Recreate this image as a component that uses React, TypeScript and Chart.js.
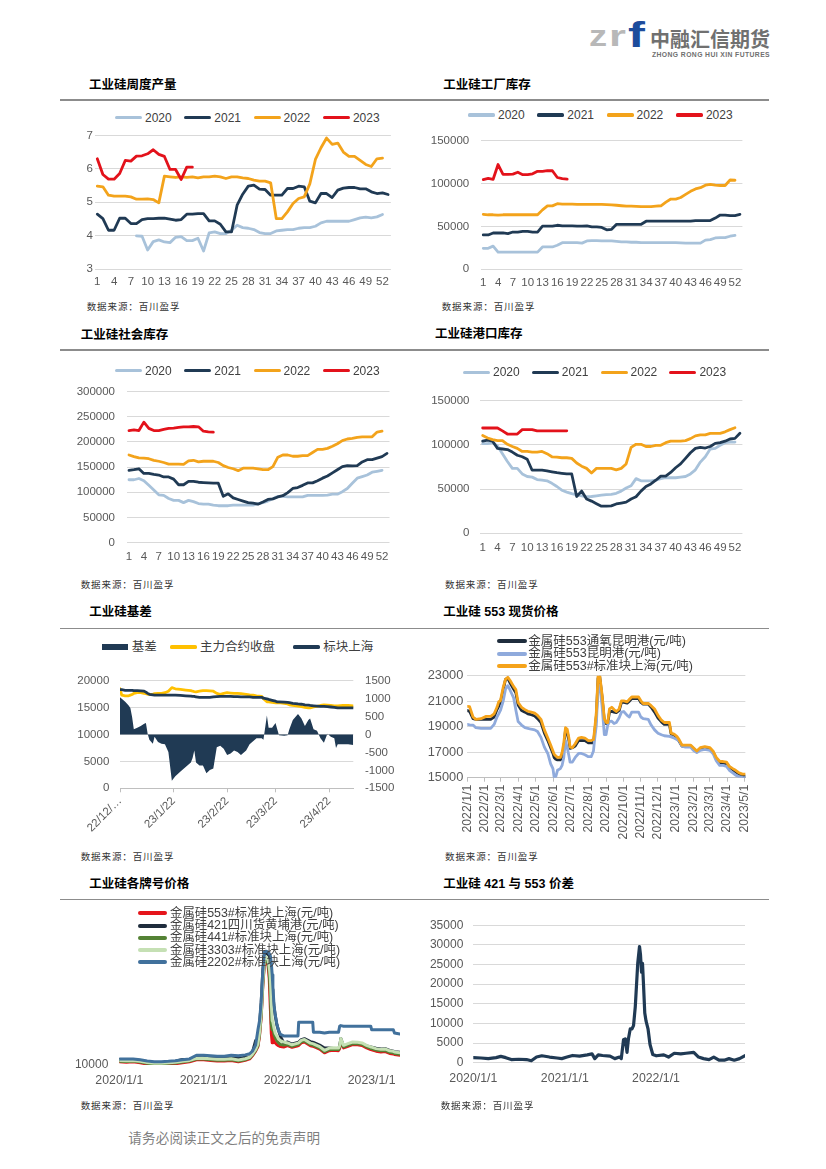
import React, { useEffect, useRef } from 'react';
import { Chart, registerables } from 'chart.js';
Chart.register(...registerables);

const NUM = "'Liberation Sans', Arial, 'Noto Sans CJK SC', sans-serif";
const CJK = "'Noto Sans CJK SC', 'Liberation Sans', sans-serif";
const TICK = '#595959';
const GRID = '#D9D9D9';
const AXIS = '#BFBFBF';

// ---------------- colours ----------------
const C2020 = '#A8C2DA';
const C2021 = '#203A54';
const C2022 = '#F3A31B';
const C2023 = '#E3121B';
const GOLD = '#FFC000';
const NAVY = '#203A54';
const DARK = '#1F2D3D';
const LBLUE = '#8FAADC';
const ORANGE = '#F5A31A';
const RED = '#E5151B';
const GREEN = '#548235';
const LGREEN = '#C5E0B4';
const STEEL = '#41719C';

// ---------------- weekly categories ----------------
const weekLabels = ['1','2','3','4','5','6','7','8','9','10','11','12','13','14','15','16','17','18','19','20','21','22','23','24','25','26','27','28','29','30','31','32','33','34','35','36','37','38','39','40','41','42','43','44','45','46','47','48','49','50','51','52','53'];
const yearLabels = ['2020', '2021', '2022', '2023'];

// 工业硅周度产量
const prod2020 = [null,null,null,null,null,null,null,3.99,3.98,3.57,3.82,3.87,3.81,3.79,3.95,3.97,3.85,3.85,3.92,3.54,4.08,4.11,4.06,4.06,4.16,4.31,4.24,4.22,4.18,4.09,4.06,4.06,4.14,4.16,4.18,4.18,4.22,4.24,4.24,4.28,4.38,4.43,4.43,4.43,4.43,4.43,4.48,4.53,4.55,4.53,4.56,4.63,null];
const prod2021 = [4.64,4.51,4.16,4.16,4.52,4.52,4.36,4.36,4.48,4.51,4.51,4.52,4.52,4.49,4.46,4.48,4.64,4.64,4.66,4.66,4.44,4.44,4.34,4.11,4.11,4.91,5.24,5.48,5.51,5.39,5.38,5.21,5.21,5.21,5.41,5.41,5.48,5.46,5.03,4.98,5.26,5.26,5.14,5.36,5.42,5.44,5.44,5.40,5.40,5.31,5.26,5.28,5.23];
const prod2022 = [5.48,5.46,5.21,5.18,5.18,5.18,5.16,5.09,5.09,5.10,5.08,4.98,5.78,5.76,5.74,5.76,5.74,5.76,5.73,5.76,5.76,5.78,5.76,5.71,5.76,5.76,5.73,5.71,5.66,5.63,5.63,5.58,4.51,4.51,4.71,4.96,5.11,5.16,5.55,6.28,6.63,6.92,6.73,6.77,6.50,6.37,6.37,6.25,6.13,6.07,6.30,6.32,null];
const prod2023 = [6.30,5.83,5.69,5.69,5.86,6.25,6.23,6.38,6.39,6.45,6.57,6.43,6.37,5.98,5.98,5.68,6.05,6.05,null,null,null,null,null,null,null,null,null,null,null,null,null,null,null,null,null,null,null,null,null,null,null,null,null,null,null,null,null,null,null,null,null,null,null];

// 工业硅工厂库存
const fac2020 = [24400,24400,27000,20000,20000,20000,20000,20000,20000,20000,20000,20000,26000,26000,26000,28000,31000,31000,31000,31000,30500,33000,33400,33400,33200,33000,33000,32500,32000,32000,31500,31500,31000,31000,31000,31000,31000,31000,31000,31000,30800,30500,30500,30500,30500,34000,34500,36500,37000,37000,38500,39500,null];
const fac2021 = [40000,40000,42300,42300,42300,41600,43400,43400,44100,44100,43400,43400,50200,50200,50200,51300,50600,50600,50600,50200,50200,50600,49500,49500,48800,46000,46600,52400,52400,52400,52400,52400,52400,56000,56000,56000,56000,56000,56000,56000,56000,56000,56000,56700,56700,56700,56700,59600,63200,63200,62400,62600,63900];
const fac2022 = [63900,63500,63500,63000,63500,63500,63500,63500,63500,63500,63500,63500,69200,73900,73900,76400,76000,76000,76000,75700,75700,75700,75700,75700,75500,75300,75000,74600,74000,73500,73500,73200,73000,73000,73000,73500,74000,78200,81800,81800,83600,87200,90800,93600,95100,98000,99000,98000,97600,97600,104000,103700,null];
const fac2023 = [104400,105800,104800,122000,110500,110500,110900,113000,110200,110200,111200,114100,114100,114800,114800,106900,105500,105100,null,null,null,null,null,null,null,null,null,null,null,null,null,null,null,null,null,null,null,null,null,null,null,null,null,null,null,null,null,null,null,null,null,null,null];

// 工业硅社会库存
const soc2020 = [124800,124800,127300,123000,113700,104300,95000,93800,87600,83900,83900,79500,83900,81400,77600,76400,76400,74500,73300,73300,73300,74500,74500,74500,74500,74500,77600,79500,82600,87000,92000,92000,90700,90700,90700,90700,93800,93800,93800,93800,94500,96300,96300,101200,107500,118000,128000,131000,134200,139800,141600,143500,null];
const soc2021 = [143500,144700,146600,137300,137300,135400,134200,130400,130400,126100,114900,114900,121700,121700,119900,119300,118600,118000,118000,91900,96900,88800,85700,82600,79500,78300,76400,80700,85700,87000,90700,93200,99400,107500,109300,113700,118600,118600,123000,128000,132300,138500,144700,150900,152800,152200,152800,160200,164600,164600,167700,170800,177000];
const soc2022 = [173900,170800,168300,167700,166500,163400,161500,159000,155900,155900,155900,155300,162100,163400,160200,161500,161500,161500,159000,152800,149100,146600,142900,147800,147800,147800,146600,144700,144700,150900,169600,173900,173900,171400,171400,172700,172700,178900,185100,185100,187000,191300,196300,202500,205600,206800,208700,209900,209900,209900,219300,221100,null];
const soc2023 = [222400,223600,222400,239100,226700,222400,222400,224800,226700,227300,228600,229800,229800,230400,229800,221100,219900,219300,null,null,null,null,null,null,null,null,null,null,null,null,null,null,null,null,null,null,null,null,null,null,null,null,null,null,null,null,null,null,null,null,null,null,null];

// 工业硅港口库存
const port2020 = [101300,101300,102400,98800,90000,81200,73400,73400,67100,64200,63500,60700,60000,59300,56500,52900,48700,46600,44800,43400,42400,41300,41600,42400,43100,43800,44100,45200,47700,51200,53700,61800,59300,59300,59300,60000,61800,62800,62800,62800,63500,64200,67100,71700,80500,86500,95300,96000,99500,102400,103100,103100,null];
const port2021 = [104100,105200,104100,96000,95300,94600,91800,88200,86500,83700,71300,71300,71300,70600,69500,68500,67800,67100,67100,41600,47700,38800,36400,33500,30700,30700,31000,33200,34200,35300,38800,41300,47700,52900,55800,60000,64600,64600,68800,74100,78400,84700,91100,96000,97100,96400,98100,101700,102400,104100,106600,107300,113000];
const port2022 = [110500,107700,105900,104800,104800,100600,98100,96000,92500,92500,91800,91800,92500,90000,86500,86100,85400,85400,84700,79400,75900,73400,68100,73400,73400,73400,73400,71700,73400,78400,97100,100600,100600,98100,98100,99500,99500,102400,104100,104100,104100,104800,107000,110100,111200,111200,113000,113000,113000,114700,117200,119300,null];
const port2023 = [119000,119000,119000,119000,115800,112200,112200,112200,117200,117200,117200,115800,115800,115800,115800,115800,115800,115800,null,null,null,null,null,null,null,null,null,null,null,null,null,null,null,null,null,null,null,null,null,null,null,null,null,null,null,null,null,null,null,null,null,null,null];

// 工业硅基差
const basisLegend = ['基差', '主力合约收盘', '标块上海'];
const basisDates = ['2022-12-22','2022-12-23','2022-12-25','2022-12-27','2022-12-28','2022-12-29','2022-12-30','2023-01-01','2023-01-03','2023-01-05','2023-01-06','2023-01-07','2023-01-08','2023-01-10','2023-01-11','2023-01-13','2023-01-15','2023-01-17','2023-01-19','2023-01-21','2023-01-23','2023-01-26','2023-01-29','2023-02-01','2023-02-02','2023-02-03','2023-02-04','2023-02-06','2023-02-08','2023-02-10','2023-02-12','2023-02-14','2023-02-16','2023-02-18','2023-02-20','2023-02-22','2023-02-24','2023-02-26','2023-02-28','2023-03-02','2023-03-05','2023-03-07','2023-03-09','2023-03-11','2023-03-14','2023-03-15','2023-03-17','2023-03-18','2023-03-20','2023-03-22','2023-03-23','2023-03-24','2023-03-27','2023-03-29','2023-03-30','2023-04-01','2023-04-04','2023-04-06','2023-04-08','2023-04-10','2023-04-11','2023-04-13','2023-04-15','2023-04-17','2023-04-19','2023-04-21','2023-04-23','2023-04-25','2023-04-26','2023-04-27','2023-04-30','2023-05-03','2023-05-06'];
const basisSpot = [18310,18310,18200,18200,18200,18200,18140,18140,18080,18030,17860,17630,17460,17350,17300,17300,17300,17300,17300,17300,17300,17240,17180,17130,17070,17070,16960,16900,16900,16900,16900,16960,17010,17070,17070,17070,17070,17010,17010,16960,16960,16960,16900,16900,16900,16730,16620,16510,16340,16170,16060,16060,16000,15940,15890,15770,15660,15610,15490,15440,15380,15320,15270,15210,15210,15150,15100,15040,14990,14930,14930,14930,14930];
const basisFut = [18480,17300,17180,17180,17300,17410,17630,17750,17750,17630,17580,17460,17460,17460,17580,17630,17630,17750,18030,18700,18480,18370,18250,18140,18030,17970,17920,18030,18140,18140,18080,18030,17630,17460,17630,17750,17690,17630,17630,17580,17460,17350,17300,17180,17070,16620,16060,16060,15940,15890,15890,15890,15770,15660,15490,15380,15270,15150,15040,14930,14930,15100,15210,15380,15490,15440,15380,15320,15320,15320,15380,15380,15320];
const basisVals = [1035,994,909,807,740,486,148,190,232,300,317,21,-148,-258,-63,-207,-258,-275,-486,-1289,-1162,-1035,-909,-782,-655,-444,-782,-867,-867,-1078,-993,-951,-359,-317,-401,-571,-528,-444,-486,-571,-444,-275,-190,-106,-106,-148,528,190,190,317,148,-21,-38,-21,148,401,571,444,232,401,444,148,106,-106,-232,21,-63,-106,-376,-275,-275,-275,-292];
const basisTickDates = ['2022-12-22', '2023-01-22', '2023-02-22', '2023-03-22', '2023-04-22'];
const basisTickLabels = ['22/12/…', '23/1/22', '23/2/22', '23/3/22', '23/4/22'];

// 工业硅553现货价格
const spotLegend = ['金属硅553通氧昆明港(元/吨)', '金属硅553昆明港(元/吨)', '金属硅553#标准块上海(元/吨)'];
const spotDates = ['2022-01-01','2022-01-05','2022-01-11','2022-01-16','2022-01-25','2022-02-03','2022-02-11','2022-02-17','2022-02-22','2022-02-25','2022-02-28','2022-03-05','2022-03-09','2022-03-13','2022-03-17','2022-03-23','2022-03-27','2022-03-31','2022-04-06','2022-04-12','2022-04-17','2022-04-23','2022-04-29','2022-05-04','2022-05-10','2022-05-16','2022-05-22','2022-05-27','2022-05-31','2022-06-02','2022-06-05','2022-06-08','2022-06-13','2022-06-16','2022-06-19','2022-06-22','2022-06-25','2022-06-28','2022-06-30','2022-07-04','2022-07-09','2022-07-15','2022-07-20','2022-07-26','2022-08-01','2022-08-06','2022-08-10','2022-08-12','2022-08-15','2022-08-18','2022-08-21','2022-08-25','2022-08-29','2022-09-01','2022-09-04','2022-09-07','2022-09-11','2022-09-15','2022-09-19','2022-09-24','2022-09-28','2022-10-02','2022-10-08','2022-10-12','2022-10-16','2022-10-22','2022-10-28','2022-11-01','2022-11-05','2022-11-14','2022-11-19','2022-11-25','2022-12-01','2022-12-07','2022-12-12','2022-12-21','2022-12-24','2022-12-29','2023-01-03','2023-01-07','2023-01-12','2023-01-18','2023-01-27','2023-02-01','2023-02-07','2023-02-13','2023-02-21','2023-03-02','2023-03-08','2023-03-13','2023-03-19','2023-03-25','2023-03-31','2023-04-05','2023-04-11','2023-04-16','2023-04-22','2023-04-28','2023-05-03'];
const spotTongyang = [20270,20200,19630,19580,19580,19580,19580,19760,20340,20600,20900,21910,22720,22800,22420,21960,21660,20700,20270,20140,20010,19940,19840,19630,19330,18490,17910,17350,16900,16590,16450,16390,16390,16700,17350,18750,18600,17910,17300,17350,17480,17910,17910,17910,17730,17730,17730,18490,19800,22800,22900,21350,19500,19250,19250,20140,20200,20140,20100,20270,20900,20900,20850,21000,21200,21200,21200,20900,20770,20770,20520,20140,19680,19380,19180,19180,18420,18370,18110,17860,17480,17480,17480,17280,17050,17280,17350,17280,16970,16470,16140,16140,16090,15840,15630,15460,15280,15150,15130];
const spotKunming = [19180,19150,19130,18920,18870,18870,18870,19180,19760,20000,20270,21030,21960,22220,21860,21280,20300,19400,19130,18920,18870,18800,18750,18620,18160,17400,16900,16090,15710,15080,15080,15580,15710,15960,16590,17910,17350,16720,16220,16220,16590,16900,16900,16800,16650,16650,17100,18000,19130,22160,22290,20650,18370,18370,19130,19400,19430,19250,19330,19700,20140,20190,19890,19760,20140,20140,20140,19760,19630,19580,19130,18750,18490,18370,18290,18240,18200,18110,18000,17900,17480,17400,17400,17150,16970,17150,17230,17150,16850,16340,15960,15960,15890,15580,15380,15200,15080,15030,15000];
const spotShanghai = [20590,20570,19760,19580,19630,19810,19810,20010,20520,20950,21030,22110,22720,22870,22620,22160,21910,20900,20520,20340,20210,20140,20060,19890,19580,18750,18110,17560,17100,16850,16700,16590,16590,16970,17730,18920,18800,18110,17400,17350,17660,18110,18160,18110,17910,17910,17990,18750,20140,22970,23000,21530,19630,19330,19330,20390,20520,20340,20190,20390,21030,21030,20950,21150,21330,21330,21330,21030,20820,20820,20650,20390,19890,19510,19330,19330,18490,18420,18240,17990,17560,17560,17560,17350,17100,17350,17430,17350,17050,16590,16290,16270,16220,15890,15710,15580,15380,15280,15280];
const spotTickDates = ['2022-01-01','2022-02-01','2022-03-01','2022-04-01','2022-05-01','2022-06-01','2022-07-01','2022-08-01','2022-09-01','2022-10-01','2022-11-01','2022-12-01','2023-01-01','2023-02-01','2023-03-01','2023-04-01','2023-05-01'];
const spotTickLabels = ['2022/1/1','2022/2/1','2022/3/1','2022/4/1','2022/5/1','2022/6/1','2022/7/1','2022/8/1','2022/9/1','2022/10/1','2022/11/1','2022/12/1','2023/1/1','2023/2/1','2023/3/1','2023/4/1','2023/5/1'];

// 工业硅各牌号价格
const gradeLegend = ['金属硅553#标准块上海(元/吨)', '金属硅421四川货黄埔港(元/吨)', '金属硅441#标准块上海(元/吨)', '金属硅3303#标准块上海(元/吨)', '金属硅2202#标准块上海(元/吨)'];
const gradeDates = ['2020-01-01','2020-02-01','2020-03-01','2020-04-01','2020-05-01','2020-06-01','2020-07-01','2020-08-01','2020-09-01','2020-10-01','2020-11-01','2020-12-01','2021-01-01','2021-02-01','2021-03-01','2021-04-01','2021-05-01','2021-06-01','2021-07-01','2021-07-20','2021-08-01','2021-08-15','2021-08-25','2021-09-01','2021-09-08','2021-09-15','2021-09-22','2021-09-29','2021-10-08','2021-10-13','2021-10-18','2021-10-22','2021-10-26','2021-10-29','2021-11-03','2021-11-08','2021-11-15','2021-11-22','2021-12-01','2021-12-15','2022-01-01','2022-01-20','2022-02-15','2022-02-18','2022-03-01','2022-03-15','2022-04-10','2022-04-20','2022-04-23','2022-05-20','2022-06-10','2022-07-01','2022-07-20','2022-08-10','2022-08-15','2022-08-20','2022-09-01','2022-09-20','2022-10-10','2022-11-01','2022-11-20','2022-12-10','2022-12-28','2023-01-01','2023-01-20','2023-02-10','2023-03-01','2023-03-20','2023-04-05','2023-04-10','2023-05-04'];
const grade553 = [11700,11500,11700,11200,10500,10200,10200,10500,10700,11200,11700,12800,12800,12500,12200,12200,12500,11800,12500,13300,15000,17500,20000,25800,35700,52400,64800,66500,64000,57300,40700,27400,22100,27400,22800,22100,21100,20500,20000,19800,20500,19600,20500,20700,22000,22500,20500,20200,20100,18600,16600,17800,18000,17800,19000,23000,19300,20200,21100,21000,20600,19300,18400,18300,17500,17100,17300,16300,16000,15700,15300];
const grade421 = [13000,12700,12700,12500,11800,11000,11100,11300,12100,13000,13100,14000,14100,14300,13900,14200,14500,13600,14200,14400,16800,23300,22600,31600,43500,61000,70500,71000,70000,69500,62300,57300,51000,48000,41600,37000,32000,29000,25500,22000,22500,21400,22300,22500,23800,24300,22700,22400,22300,20800,19200,19200,19000,18800,20300,24400,20000,21000,21800,21700,21700,20300,19800,19700,19100,18700,18900,17900,17500,17200,16900];
const grade441 = [12100,11900,12100,11600,10900,10600,10600,10900,11100,11600,12100,13200,13200,12900,12600,12600,12900,12200,12900,13700,15400,17900,20500,26500,36500,53500,65800,67300,65200,60000,49000,32400,29100,30400,26600,24900,23300,22100,21100,20800,21100,20200,21100,21300,22600,23100,21100,20800,20700,19200,17200,18400,18600,18400,19600,23600,19900,20800,21700,21600,21200,19900,19000,18900,18100,17700,17900,16900,16600,16300,15900];
const grade3303 = [12500,12300,12400,12000,11300,10900,10900,11200,11500,12000,12500,13600,13700,13400,13100,13100,13400,12700,13400,14200,15900,18500,21500,28000,38500,55500,67500,68800,67000,63500,57300,44000,34100,33300,29900,27400,25800,24100,23300,22500,22000,21000,21900,22100,23400,23900,21900,21600,21500,20000,18000,19200,19400,19200,20400,24400,20700,21600,22500,22400,22000,20700,19800,19700,18900,18500,18700,17700,17400,17100,16700];
const grade2202 = [13300,13200,13300,12800,12200,11800,11800,12000,12300,12800,13300,15300,15300,15000,14700,14800,15300,15000,15500,16100,17500,20800,29100,34100,44000,60700,71500,71800,71500,70600,69300,65600,59000,52400,42400,37400,32400,28800,26600,25800,25800,25800,25800,33300,33300,33300,33300,33300,27800,27800,27400,27800,27800,27800,31100,31400,31100,31100,31100,31100,31100,31100,31100,29100,29100,29100,29100,29100,29100,27400,26800];
const gradeTickDates = ['2020-01-01', '2021-01-01', '2022-01-01', '2023-01-01'];
const gradeTickLabels = ['2020/1/1', '2021/1/1', '2022/1/1', '2023/1/1'];

// 工业硅421与553价差
const spreadDates = ['2020-01-01','2020-02-01','2020-03-01','2020-04-01','2020-04-20','2020-05-10','2020-06-01','2020-07-01','2020-08-01','2020-08-20','2020-09-10','2020-10-01','2020-11-01','2020-12-01','2020-12-20','2021-01-10','2021-02-01','2021-03-01','2021-04-01','2021-04-20','2021-05-01','2021-05-15','2021-06-01','2021-07-01','2021-07-20','2021-08-08','2021-08-15','2021-08-24','2021-08-31','2021-09-07','2021-09-13','2021-09-20','2021-09-27','2021-10-03','2021-10-10','2021-10-15','2021-10-20','2021-10-27','2021-10-31','2021-11-04','2021-11-08','2021-11-12','2021-11-17','2021-11-22','2021-11-30','2021-12-08','2021-12-19','2022-01-02','2022-02-01','2022-02-20','2022-03-15','2022-04-10','2022-05-01','2022-06-01','2022-06-20','2022-07-10','2022-08-01','2022-08-20','2022-09-10','2022-10-01','2022-10-20','2022-11-10','2022-12-01','2022-12-23'];
const spreadVals = [1280,1200,1040,1280,1600,1280,800,880,800,480,1440,1760,1440,1200,1040,1440,1840,1680,2000,2240,1040,2000,1840,1680,1040,1440,1040,5840,6080,2640,6240,8630,8630,9430,14230,19820,25420,29580,27420,23020,25260,19820,12630,10630,8630,4640,2080,1760,2000,1440,2400,2240,2400,2640,1440,1040,800,1440,640,640,1040,640,1040,1760];
const spreadTickDates = ['2020-01-01', '2021-01-01', '2022-01-01'];
const spreadTickLabels = ['2020/1/1', '2021/1/1', '2022/1/1'];

const SOURCE = '数据来源：百川盈孚';

// ---------------- helpers ----------------
const toDay = (s: string) => Date.parse(s + 'T00:00:00Z') / 86400000;
const pts = (dates: string[], vals: number[]) => dates.map((d, i) => ({ x: toDay(d), y: vals[i] }));

type Box = { l: number; t: number; r: number; b: number };

const baseOpts = (g: Box, scales: any, rightAxis = false) => ({
  animation: false,
  responsive: false,
  maintainAspectRatio: false,
  events: [],
  layout: { padding: { left: 0, top: g.t, right: rightAxis ? 0 : g.r, bottom: 0 }, autoPadding: false },
  plugins: { legend: { display: false }, tooltip: { enabled: false }, title: { display: false } },
  scales,
});

const yLinear = (g: Box, min: number, max: number, step: number, pad: number, size: number, grid: boolean, cb?: (v: any) => string) => ({
  type: 'linear',
  position: 'left',
  min,
  max,
  ticks: { stepSize: step, padding: pad, color: TICK, font: { family: NUM, size }, callback: cb || ((v: any) => String(v)) },
  grid: grid ? { color: GRID, lineWidth: 1, drawTicks: false } : { display: false, drawTicks: false },
  border: { display: false },
  afterFit: (s: any) => { s.width = g.l; },
});

const dateAxis = (g: Box, dates: string[], tickDates: string[], tickLabels: string[], rot: number, size: number, pad: number, marks: boolean) => {
  const tv = tickDates.map(toDay);
  return {
    type: 'linear',
    min: toDay(dates[0]),
    max: toDay(dates[dates.length - 1]),
    afterBuildTicks: (s: any) => { s.ticks = tv.map((v) => ({ value: v })); },
    ticks: {
      autoSkip: false, maxRotation: rot, minRotation: rot, padding: pad, color: TICK, font: { family: NUM, size },
      callback: (v: any) => { const k = tv.indexOf(v); return k >= 0 ? tickLabels[k] : ''; },
    },
    grid: marks ? { display: true, drawOnChartArea: false, drawTicks: true, tickLength: 4, color: AXIS } : { display: false, drawTicks: false },
    border: marks ? { display: true, color: AXIS, width: 1 } : { display: false },
    afterFit: (s: any) => { s.height = g.b; },
  };
};

const lineDs = (data: any[], color: string, width: number, order: number, extra: any = {}) => ({
  data, borderColor: color, backgroundColor: color, borderWidth: width, pointRadius: 0, pointHoverRadius: 0,
  tension: 0, fill: false, spanGaps: false, borderJoinStyle: 'round', borderCapStyle: 'round', order, ...extra,
});

const weeklyChart = (series: { data: (number | null)[]; color: string }[], yMin: number, yMax: number, step: number, yPad: number, xPad: number) => (g: Box) => ({
  type: 'line',
  data: { labels: weekLabels, datasets: series.map((s, i) => lineDs(s.data, s.color, 2.8, series.length - i)) },
  options: baseOpts(g, {
    x: {
      type: 'category', offset: true, grid: { display: false, drawTicks: false }, border: { display: false },
      ticks: { autoSkip: false, maxRotation: 0, minRotation: 0, padding: xPad, color: TICK, font: { family: NUM, size: 11.5 },
        callback: (_v: any, i: number) => (i % 3 === 0 ? weekLabels[i] : '') },
      afterFit: (s: any) => { s.height = g.b; },
    },
    y: yLinear(g, yMin, yMax, step, yPad, 11.5, true),
  }),
});

const basisChart = (g: Box) => ({
  type: 'line',
  data: {
    datasets: [
      lineDs(pts(basisDates, basisVals), NAVY, 0, 3, { yAxisID: 'y1', fill: 'origin', backgroundColor: NAVY }),
      lineDs(pts(basisDates, basisFut), GOLD, 2.8, 2, { yAxisID: 'y' }),
      lineDs(pts(basisDates, basisSpot), NAVY, 2.8, 1, { yAxisID: 'y' }),
    ],
  },
  options: baseOpts(g, {
    x: dateAxis(g, basisDates, basisTickDates, basisTickLabels, 45, 11.5, 2, true),
    y: yLinear(g, 0, 20000, 5000, 10.7, 11.5, true),
    y1: {
      type: 'linear', position: 'right', min: -1500, max: 1500,
      ticks: { stepSize: 500, padding: 11.7, color: TICK, font: { family: NUM, size: 11.5 }, callback: (v: any) => String(v) },
      grid: { display: false, drawTicks: false, drawOnChartArea: false }, border: { display: false },
      afterFit: (s: any) => { s.width = g.r; },
    },
  }, true),
});

const spotChart = (g: Box) => ({
  type: 'line',
  data: {
    datasets: [
      lineDs(pts(spotDates, spotTongyang), DARK, 2.8, 3),
      lineDs(pts(spotDates, spotKunming), LBLUE, 2.8, 2),
      lineDs(pts(spotDates, spotShanghai), ORANGE, 2.8, 1),
    ],
  },
  options: baseOpts(g, {
    x: dateAxis(g, spotDates, spotTickDates, spotTickLabels, 90, 12.3, 3, true),
    y: yLinear(g, 15000, 23000, 2000, 4, 12.8, true),
  }),
});

const gradeChart = (g: Box) => ({
  type: 'line',
  data: {
    datasets: [
      lineDs(pts(gradeDates, grade553), RED, 3, 5),
      lineDs(pts(gradeDates, grade421), DARK, 3, 4),
      lineDs(pts(gradeDates, grade441), GREEN, 3, 3),
      lineDs(pts(gradeDates, grade3303), LGREEN, 3, 2),
      lineDs(pts(gradeDates, grade2202), STEEL, 3, 1),
    ],
  },
  options: baseOpts(g, {
    x: dateAxis(g, gradeDates, gradeTickDates, gradeTickLabels, 0, 12.3, 8, false),
    y: yLinear(g, 10000, 80000, 10000, 11, 12, false, (v: any) => (v === 10000 ? '10000' : '')),
  }),
});

const spreadChart = (g: Box) => ({
  type: 'line',
  data: { datasets: [lineDs(pts(spreadDates, spreadVals), NAVY, 3.2, 1)] },
  options: baseOpts(g, {
    x: dateAxis(g, spreadDates, spreadTickDates, spreadTickLabels, 0, 12.3, 8.4, false),
    y: yLinear(g, 0, 35000, 5000, 10, 12, true),
  }),
});

// ---------------- components ----------------
function ChartBox({ plot, m, make }: { plot: Box; m: Box; make: (g: Box) => any }) {
  const ref = useRef<HTMLCanvasElement | null>(null);
  const cl = Math.floor(plot.l - m.l);
  const ct = Math.floor(plot.t - m.t);
  const cr = Math.ceil(plot.r + m.r);
  const cb = Math.ceil(plot.b + m.b);
  const g = { l: plot.l - cl, t: plot.t - ct, r: cr - plot.r, b: cb - plot.b };
  useEffect(() => {
    const c = new Chart(ref.current as HTMLCanvasElement, make(g));
    return () => c.destroy();
  }, []);
  return (
    <canvas ref={ref} width={cr - cl} height={cb - ct}
      style={{ position: 'absolute', left: cl, top: ct, width: cr - cl, height: cb - ct }} />
  );
}

const T = ({ x, y, s, children, f = NUM, c = '#000', w = 400, ls = 0 }: any) => (
  <div style={{ position: 'absolute', left: x, top: y - s * 0.6, fontSize: s, lineHeight: `${s * 1.2}px`, fontFamily: f,
    color: c, fontWeight: w, letterSpacing: ls, whiteSpace: 'nowrap' }}>{children}</div>
);

const Sw = ({ x, y, w, h, c, round = true }: any) => (
  <div style={{ position: 'absolute', left: x, top: y - h / 2, width: w, height: h, background: c, borderRadius: round ? h / 2 : 0 }} />
);

const Glyph = ({ x, baseline, s, sx, c, children }: any) => (
  <span style={{ position: 'absolute', left: x, top: baseline - 0.8465 * s, display: 'inline-block', fontSize: s, lineHeight: `${s}px`, fontFamily: NUM,
    fontWeight: 700, color: c, transform: `scaleX(${sx})`, transformOrigin: '0 0' }}>{children}</span>
);

const Title = ({ x, y, children }: any) => <T x={x} y={y} s={12.5} w={700}>{children}</T>;
const Src = ({ x, y }: any) => <T x={x} y={y} s={9.5} f={CJK} c="#333" ls={0.9}>{SOURCE}</T>;
const Rule = ({ y }: any) => <div style={{ position: 'absolute', left: 60, top: y - 0.7, width: 709, height: 1.4, background: '#8C8C8C' }} />;

const YearLegend = ({ x, y, step }: any) => {
  const cols = [C2020, C2021, C2022, C2023];
  return (
    <>
      {yearLabels.map((lab, i) => (
        <React.Fragment key={lab}>
          <Sw x={x + i * step} y={y} w={27} h={3.2} c={cols[i]} />
          <T x={x + i * step + 30} y={y} s={12} c="#404040">{lab}</T>
        </React.Fragment>
      ))}
    </>
  );
};

const StackLegend = ({ x, tx, ys, labels, colors, w, h, s }: any) => (
  <>
    {labels.map((lab: string, i: number) => (
      <React.Fragment key={lab}>
        <Sw x={x} y={ys[i]} w={w} h={h} c={colors[i]} />
        <T x={tx} y={ys[i]} s={s} c="#404040">{lab}</T>
      </React.Fragment>
    ))}
  </>
);

export default function App() {
  return (
    <div style={{ position: 'absolute', left: 0, top: 0, width: 826, height: 1169, background: '#fff', overflow: 'hidden', fontFamily: NUM }}>
      {/* logo */}
      <Glyph x={589} baseline={47} s={29} sx={1.25} c="#B8B8B8">z</Glyph>
      <Glyph x={609} baseline={47} s={29} sx={1.5} c="#B8B8B8">r</Glyph>
      <Glyph x={628} baseline={47} s={35} sx={1.45} c="#1D4C9C">f</Glyph>
      <T x={650} y={38.5} s={20} f={CJK} w={700} c="#707070">中融汇信期货</T>
      <T x={652} y={55.5} s={6.8} c="#707070" ls={0.4} w={700}>ZHONG RONG HUI XIN FUTURES</T>

      {/* row 1 */}
      <Title x={89} y={85}>工业硅周度产量</Title>
      <Title x={443.3} y={85}>工业硅工厂库存</Title>
      <Rule y={100} />
      <ChartBox plot={{ l: 94.5, t: 135, r: 390.9, b: 269 }} m={{ l: 40, t: 8, r: 6, b: 24 }}
        make={weeklyChart([{ data: prod2020, color: C2020 }, { data: prod2021, color: C2021 }, { data: prod2022, color: C2022 }, { data: prod2023, color: C2023 }], 3, 7, 1, 1.5, 5.8)} />
      <YearLegend x={115} y={117.7} step={69.3} />
      <Src x={86.7} y={306.5} />

      <ChartBox plot={{ l: 480.8, t: 130, r: 742.4, b: 269.3 }} m={{ l: 60, t: 8, r: 6, b: 24 }}
        make={weeklyChart([{ data: fac2020, color: C2020 }, { data: fac2021, color: C2021 }, { data: fac2022, color: C2022 }, { data: fac2023, color: C2023 }], 0, 150000, 50000, 11.6, 7.1)} />
      <YearLegend x={468} y={115} step={69.3} />
      <Src x={441.7} y={306.5} />

      {/* row 2 */}
      <Title x={80.7} y={335}>工业硅社会库存</Title>
      <Title x={435} y={334.5}>工业硅港口库存</Title>
      <Rule y={350} />
      <ChartBox plot={{ l: 126.5, t: 381.7, r: 389.5, b: 542.7 }} m={{ l: 60, t: 8, r: 6, b: 24 }}
        make={weeklyChart([{ data: soc2020, color: C2020 }, { data: soc2021, color: C2021 }, { data: soc2022, color: C2022 }, { data: soc2023, color: C2023 }], 0, 300000, 50000, 11.5, 7.4)} />
      <YearLegend x={115} y={370.7} step={69.3} />
      <Src x={80.7} y={585} />

      <ChartBox plot={{ l: 480.2, t: 391.7, r: 742.4, b: 533.3 }} m={{ l: 60, t: 8, r: 6, b: 24 }}
        make={weeklyChart([{ data: port2020, color: C2020 }, { data: port2021, color: C2021 }, { data: port2022, color: C2022 }, { data: port2023, color: C2023 }], 0, 150000, 50000, 10.7, 7.5)} />
      <YearLegend x={463} y={372.3} step={68.8} />
      <Src x={445} y={585} />

      {/* row 3 */}
      <Title x={89.3} y={612.7}>工业硅基差</Title>
      <Title x={443.3} y={612.7}>工业硅 553 现货价格</Title>
      <Rule y={628.3} />
      <ChartBox plot={{ l: 120, t: 670, r: 353.3, b: 788.3 }} m={{ l: 50, t: 8, r: 45, b: 56 }} make={basisChart} />
      <Sw x={101.7} y={647} w={26.6} h={5.8} c={NAVY} round={false} />
      <T x={131.7} y={647} s={12.5} c="#404040">{basisLegend[0]}</T>
      <Sw x={170} y={647} w={27} h={3.2} c={GOLD} />
      <T x={200} y={647} s={12.5} c="#404040">{basisLegend[1]}</T>
      <Sw x={293.3} y={647} w={27} h={3.2} c={NAVY} />
      <T x={323.3} y={647} s={12.5} c="#404040">{basisLegend[2]}</T>
      <Src x={80.7} y={856.7} />

      <ChartBox plot={{ l: 467.3, t: 672.3, r: 753.3, b: 777.7 }} m={{ l: 50, t: 8, r: 8, b: 64 }} make={spotChart} />
      <StackLegend x={497.3} tx={528.3} ys={[641.2, 653.6, 666]} labels={spotLegend} colors={[DARK, LBLUE, ORANGE]} w={30} h={4} s={12.5} />
      <Src x={445} y={856.7} />

      {/* row 4 */}
      <Title x={89.3} y={884}>工业硅各牌号价格</Title>
      <Title x={443.3} y={884}>工业硅 421 与 553 价差</Title>
      <Rule y={899.3} />
      <ChartBox plot={{ l: 119.3, t: 924.5, r: 400, b: 1065 }} m={{ l: 50, t: 6, r: 30, b: 26 }} make={gradeChart} />
      <StackLegend x={138.3} tx={170} ys={[913.3, 925.5, 937.7, 950, 962.2]} labels={gradeLegend} colors={[RED, DARK, GREEN, LGREEN, STEEL]} w={29} h={4} s={12.4} />
      <Src x={80.7} y={1106} />

      <ChartBox plot={{ l: 473.3, t: 916.7, r: 745, b: 1062.7 }} m={{ l: 50, t: 8, r: 30, b: 26 }} make={spreadChart} />
      <Src x={440.7} y={1106} />

      {/* footer */}
      <T x={128.3} y={1137.5} s={13.5} f={CJK} c="#7F7F7F" ls={0.2}>请务必阅读正文之后的免责声明</T>
    </div>
  );
}
